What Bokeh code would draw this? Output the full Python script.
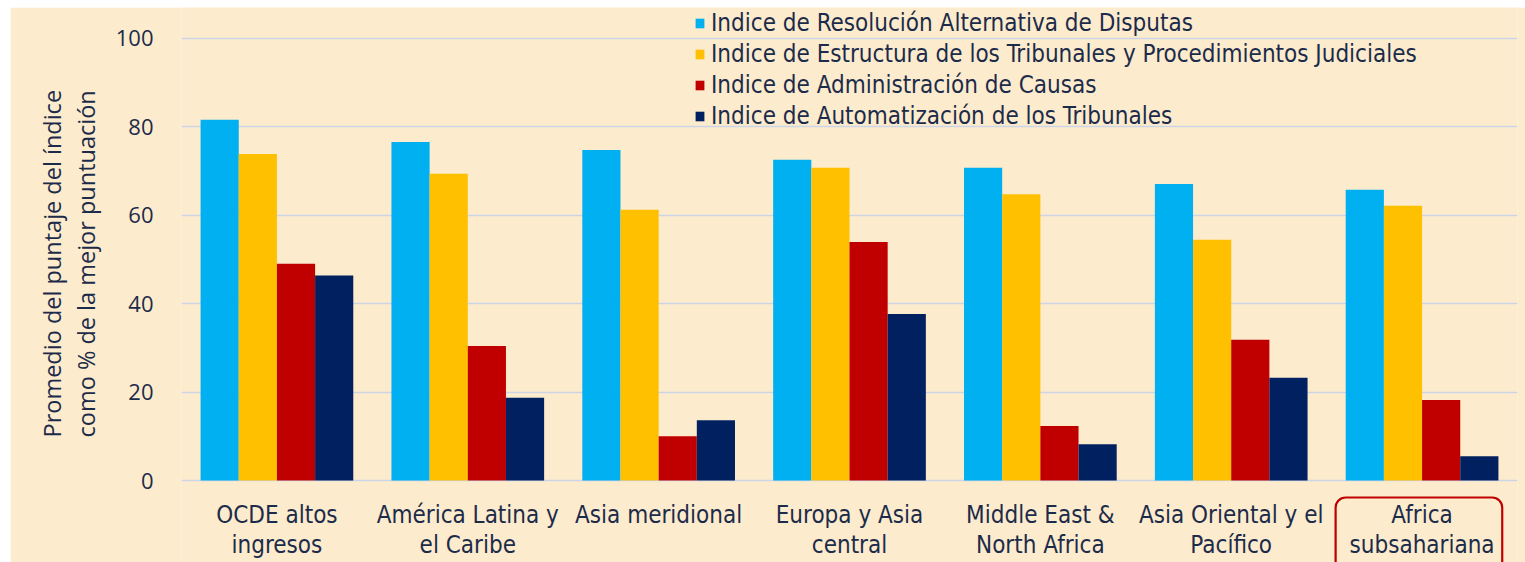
from bokeh.plotting import figure
from bokeh.models import (Range1d, FactorRange, FixedTicker, Legend, LegendItem,
                          BoxAnnotation, Title, ColumnDataSource)
from bokeh.transform import dodge
from bokeh.core.properties import value
from bokeh.embed import file_html
from bokeh.resources import INLINE

# ---------------- data ----------------
categories = ["OCDE altos ingresos", "América Latina y el Caribe", "Asia meridional",
              "Europa y Asia central", "Middle East & North Africa",
              "Asia Oriental y el Pacífico", "Africa subsahariana"]
cat_line1 = ["OCDE altos", "América Latina y", "Asia meridional", "Europa y Asia",
             "Middle East &", "Asia Oriental y el", "Africa"]
cat_line2 = ["ingresos", "el Caribe", "", "central", "North Africa", "Pacífico",
             "subsahariana"]

series_names = ["Indice de Resolución Alternativa de Disputas",
                "Indice de Estructura de los Tribunales y Procedimientos Judiciales",
                "Indice de Administración de Causas",
                "Indice de Automatización de los Tribunales"]
resolucion = [81.5, 76.5, 74.7, 72.5, 70.7, 67.0, 65.7]
estructura = [73.8, 69.3, 61.2, 70.7, 64.7, 54.4, 62.1]
administracion = [49.0, 30.4, 10.0, 53.9, 12.3, 31.8, 18.2]
automatizacion = [46.3, 18.7, 13.6, 37.6, 8.2, 23.2, 5.5]
y_ticks = [0, 20, 40, 60, 80, 100]
y_title = ["Promedio del puntaje del índice", "como % de la mejor puntuación"]

colors = ["#00B0F0", "#FFC000", "#C00000", "#002060"]
BG = "#FCEBCD"
TXT = "#1C2B4A"
NARROW = "'DejaVu Sans Condensed', Roboto, sans-serif"

# ---------------- layout (page pixels) ----------------
OFF_TOP, OFF_LEFT = 7, 10     # white strip at top/left
W, H = 1525 - OFF_LEFT, 562 - OFF_TOP
FRAME_LEFT = 181
FRAME_RIGHT = 1517
ZERO = 480
px_per_unit = 4.425
y_end = (ZERO - OFF_TOP) / px_per_unit
y_start = -(562 - ZERO) / px_per_unit

p = figure(width=W, height=H, output_backend="svg", toolbar_location=None,
           x_range=FactorRange(*categories, range_padding=0),
           y_range=Range1d(y_start, y_end),
           min_border_left=FRAME_LEFT - OFF_LEFT, min_border_right=1525 - FRAME_RIGHT,
           min_border_top=0, min_border_bottom=0)
p.margin = (OFF_TOP, 0, 0, OFF_LEFT)
p.background_fill_color = BG
p.border_fill_color = BG
p.outline_line_color = None

src = ColumnDataSource(dict(cat=categories, s0=resolucion, s1=estructura,
                            s2=administracion, s3=automatizacion,
                            l1=cat_line1, l2=cat_line2))

offsets = [-0.3, -0.1, 0.1, 0.3]
renderers = []
for i, (col, off) in enumerate(zip(["s0", "s1", "s2", "s3"], offsets)):
    r = p.vbar(x=dodge("cat", off, range=p.x_range), top=col, width=0.2, source=src,
               fill_color=colors[i], line_color=None)
    renderers.append(r)

# axes / grid
p.xaxis.visible = False
p.xgrid.visible = False
p.yaxis.ticker = FixedTicker(ticks=y_ticks)
p.ygrid.ticker = FixedTicker(ticks=y_ticks)
p.ygrid.grid_line_color = "#CBD5E6"
p.ygrid.grid_line_width = 1.6
p.yaxis.axis_line_color = None
p.yaxis.major_tick_line_color = None
p.yaxis.minor_tick_line_color = None
p.yaxis.major_label_standoff = 22
p.yaxis.major_label_text_font = "Open Sans"
p.yaxis.major_label_text_font_size = "22px"
p.yaxis.major_label_text_color = TXT

# category labels
lab1_y = -34 / px_per_unit
lab2_y = -64 / px_per_unit
for ycol, yv in (("l1", lab1_y), ("l2", lab2_y)):
    p.text(x="cat", y=yv, text=ycol, source=src, text_align="center",
           text_baseline="middle", text_font=value(NARROW), text_font_size="24px",
           text_color=TXT)

# red rounded box around last category
p.add_layout(BoxAnnotation(left=6.047, right=6.92, top=-17 / px_per_unit, bottom=-25,
                           fill_alpha=0, line_color="#C00000", line_alpha=1.0,
                           line_width=2.2, border_radius=10))

# y axis title: one two-line title on the left side
p.add_layout(Title(text="\n".join(y_title), align="left", offset=125, standoff=21,
                   text_line_height=1.05,
                   text_font="Open Sans", text_font_size="23.5px",
                   text_font_style="normal", text_color=TXT), "left")

# legend
legend = Legend(items=[LegendItem(label=n, renderers=[r]) for n, r in zip(series_names, renderers)],
                location=(694 - FRAME_LEFT, H - 124), orientation="vertical",
                padding=0, margin=0, spacing=0, label_height=31,
                glyph_width=11, glyph_height=12, label_standoff=6,
                background_fill_alpha=0, border_line_alpha=0,
                label_text_font=NARROW, label_text_font_size="24px",
                label_text_color=TXT)
p.add_layout(legend)

open("out.html", "w").write(file_html(p, INLINE))
